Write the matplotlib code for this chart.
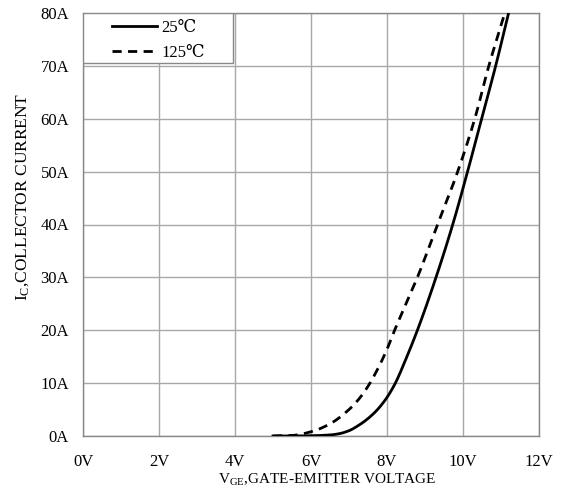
import matplotlib
matplotlib.use("Agg")
import matplotlib.pyplot as plt
from matplotlib.patches import Rectangle
import numpy as np

plt.rcParams['font.family'] = ['Liberation Serif', 'DejaVu Serif']
plt.rcParams['mathtext.fontset'] = 'custom'
plt.rcParams['mathtext.rm'] = 'Liberation Serif'
plt.rcParams['mathtext.it'] = 'Liberation Serif'

# 25°C curve (V_GE in V, I_C in A)
vge_25 = [5.0, 5.5, 6.0, 6.5, 6.75, 7.0, 7.25, 7.5, 7.75, 8.0, 8.22, 8.5, 8.8, 9.29, 9.73, 10.12, 10.49, 10.86, 11.2]
ic_25 = [0.0, 0.0, 0.05, 0.2, 0.45, 1.0, 2.0, 3.3, 5.0, 7.3, 10.0, 14.6, 20.0, 30.0, 40.0, 50.0, 60.0, 70.0, 80.0]

# 125°C curve
vge_125 = [5.0, 5.5, 6.0, 6.5, 7.0, 7.25, 7.5, 7.75, 8.0, 8.2, 8.5, 8.8, 9.33, 9.86, 10.31, 10.68, 11.1]
ic_125 = [0.0, 0.1, 0.8, 2.3, 5.0, 6.9, 9.4, 12.6, 16.4, 20.0, 25.0, 30.0, 40.0, 50.0, 60.0, 70.0, 80.0]

x_ticks = [0, 2, 4, 6, 8, 10, 12]
x_labels = ['0V', '2V', '4V', '6V', '8V', '10V', '12V']
y_ticks = [0, 10, 20, 30, 40, 50, 60, 70, 80]
y_labels = ['0A', '10A', '20A', '30A', '40A', '50A', '60A', '70A', '80A']

W, H = 562, 492
fig = plt.figure(figsize=(W / 100, H / 100), dpi=100)
ax_l, ax_r, ax_t, ax_b = 83, 539, 13, 436
ax = fig.add_axes([ax_l / W, 1 - ax_b / H, (ax_r - ax_l) / W, (ax_b - ax_t) / H])


def smooth(xs, ys, n=400):
    xs = np.asarray(xs, float); ys = np.asarray(ys, float)
    h = np.diff(xs); d = np.diff(ys) / h
    m = np.zeros_like(xs)
    for i in range(1, len(xs) - 1):
        if d[i-1] * d[i] <= 0:
            m[i] = 0
        else:
            w1 = 2*h[i] + h[i-1]; w2 = h[i] + 2*h[i-1]
            m[i] = (w1 + w2) / (w1/d[i-1] + w2/d[i])
    m[0] = d[0]; m[-1] = d[-1]
    xx = np.linspace(xs[0], xs[-1], n)
    idx = np.clip(np.searchsorted(xs, xx) - 1, 0, len(xs) - 2)
    t = (xx - xs[idx]) / h[idx]
    h00 = 2*t**3 - 3*t**2 + 1; h10 = t**3 - 2*t**2 + t
    h01 = -2*t**3 + 3*t**2; h11 = t**3 - t**2
    yy = h00*ys[idx] + h10*h[idx]*m[idx] + h01*ys[idx+1] + h11*h[idx]*m[idx+1]
    return xx, yy


x1, y1 = smooth(vge_25, ic_25)
x2, y2 = smooth(vge_125, ic_125)
ax.plot(x1, y1, color='black', lw=2.0, label='25℃', zorder=3)
ax.plot(x2, y2, color='black', lw=2.0, ls=(0, (3.3, 2.3)), label='125℃', zorder=3)

ax.set_xlim(0, 12)
ax.set_ylim(0, 80)
ax.set_xticks(x_ticks)
ax.set_xticklabels(x_labels)
ax.set_yticks(y_ticks)
ax.set_yticklabels(y_labels)
ax.tick_params(length=0, labelsize=12)
ax.tick_params(axis='y', pad=10)
ax.tick_params(axis='x', pad=13)
ax.grid(True, color='#a8a8a8', lw=1.0)
ax.set_axisbelow(True)
for s in ax.spines.values():
    s.set_color('#888888')
    s.set_linewidth(1.0)

fig.text(327 / W, 1 - 480 / H, r'V$_{\mathregular{GE}}$,GATE-EMITTER VOLTAGE',
         fontsize=11, ha='center', va='center')
fig.text(23 / W, 1 - 197 / H, r'I$_{\mathregular{C}}$,COLLECTOR CURRENT',
         fontsize=12.5, ha='center', va='center', rotation=90)

# legend box
aw, ah = ax_r - ax_l, ax_b - ax_t
box = Rectangle((0, 1 - 50 / ah), 150 / aw, 50 / ah, transform=ax.transAxes,
                facecolor='white', edgecolor='#888888', lw=1.0, zorder=4)
ax.add_patch(box)
leg = ax.legend(loc='upper left', bbox_to_anchor=((112 - ax_l) / aw, 1 - 7 / ah),
                borderaxespad=0, borderpad=0, frameon=False,
                handlelength=2.7, handletextpad=0.25, labelspacing=0.55,
                prop={'family': ['Liberation Serif', 'DejaVu Serif'], 'size': 12})
leg.set_zorder(5)

fig.savefig('out.png', dpi=100)
